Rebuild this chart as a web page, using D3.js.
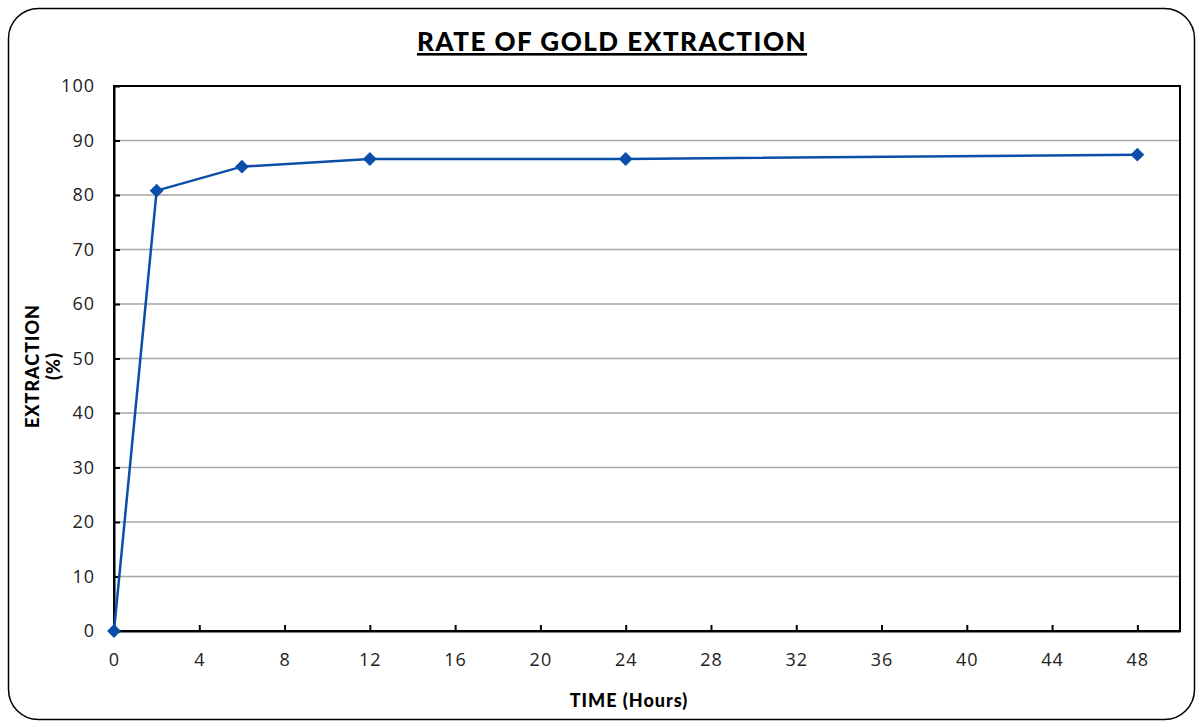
<!DOCTYPE html>
<head>
    <meta charset="utf-8">
    <title>Rate of gold extraction</title>
    <style>
        body { margin: 0; background: #fff; }
        text { font-family: Lato, "Open Sans", sans-serif; }
    </style>
</head>
<body>
    <script src="https://d3js.org/d3.v7.min.js"></script>
    <script>
        // data
        var hours = [0, 2, 6, 12, 24, 48];
        var extraction = [0, 80.8, 85.2, 86.6, 86.6, 87.4];
        var xTicks = [0, 4, 8, 12, 16, 20, 24, 28, 32, 36, 40, 44, 48];
        var yTicks = [0, 10, 20, 30, 40, 50, 60, 70, 80, 90, 100];

        var W = 1203, H = 727;
        var margin = { top: 86, right: 23, bottom: 96, left: 114 },
            width = W - margin.left - margin.right,
            height = H - margin.top - margin.bottom;

        var svg = d3.select('body').append('svg')
            .attr('width', W)
            .attr('height', H);

        // outer rounded frame
        svg.append('rect')
            .attr('x', 8.5).attr('y', 8.5)
            .attr('width', 1186).attr('height', 711)
            .attr('rx', 30).attr('ry', 30)
            .attr('fill', 'none')
            .attr('stroke', '#000')
            .attr('stroke-width', 1.5);

        var x = d3.scaleLinear().domain([0, 50]).range([0, width]);
        var y = d3.scaleLinear().domain([0, 100]).range([height, 0]);

        var g = svg.append('g')
            .attr('transform', 'translate(' + margin.left + ',' + margin.top + ')');

        // gridlines
        g.selectAll('.grid')
            .data(yTicks.slice(1, -1))
            .enter().append('line')
            .attr('class', 'grid')
            .attr('x1', 0).attr('x2', width)
            .attr('y1', function (d) { return y(d); })
            .attr('y2', function (d) { return y(d); })
            .attr('stroke', '#a6a6a6')
            .attr('stroke-width', 1.5);

        // plot frame
        g.append('rect')
            .attr('width', width).attr('height', height)
            .attr('fill', 'none')
            .attr('stroke', '#000')
            .attr('stroke-width', 2);

        var xAxis = d3.axisBottom(x)
            .tickValues(xTicks)
            .tickSizeInner(-6)
            .tickSizeOuter(0)
            .tickPadding(22);

        var yAxis = d3.axisLeft(y)
            .tickValues(yTicks)
            .tickSizeInner(-6)
            .tickSizeOuter(0)
            .tickPadding(19);

        var gx = g.append('g')
            .attr('transform', 'translate(0,' + height + ')')
            .call(xAxis);
        var gy = g.append('g').call(yAxis);

        [gx, gy].forEach(function (a) {
            a.select('.domain').attr('stroke', '#000').attr('stroke-width', 2);
            a.selectAll('.tick line').attr('stroke', '#000').attr('stroke-width', 2);
            a.selectAll('.tick text')
                .attr('fill', '#222')
                .style('font-size', '18px')
                .style('letter-spacing', '1px')
                .style('font-family', '"Open Sans", sans-serif');
        });

        // the series
        var pts = hours.map(function (h, i) { return [h, extraction[i]]; });

        var line = d3.line()
            .x(function (d) { return x(d[0]); })
            .y(function (d) { return y(d[1]); });

        g.append('path')
            .datum(pts)
            .attr('d', line)
            .attr('fill', 'none')
            .attr('stroke', '#0b4ea8')
            .attr('stroke-width', 2.5);

        g.selectAll('.pt')
            .data(pts)
            .enter().append('path')
            .attr('class', 'pt')
            .attr('d', d3.symbol().type(d3.symbolSquare).size(96))
            .attr('transform', function (d) {
                return 'translate(' + x(d[0]) + ',' + y(d[1]) + ') rotate(45)';
            })
            .attr('fill', '#0b4ea8');

        // titles
        svg.append('text')
            .attr('x', 612)
            .attr('y', 51)
            .attr('text-anchor', 'middle')
            .style('font-size', '26px')
            .style('font-weight', 900)
            .style('letter-spacing', '1.5px')
            .style('text-decoration', 'underline')
            .text('RATE OF GOLD EXTRACTION');

        svg.append('text')
            .attr('x', 629)
            .attr('y', 707)
            .attr('text-anchor', 'middle')
            .style('font-size', '18px')
            .style('font-weight', 900)
            .style('letter-spacing', '1px')
            .text('TIME (Hours)');

        var yl = svg.append('text')
            .attr('transform', 'translate(39,366) rotate(-90)')
            .attr('text-anchor', 'middle')
            .style('font-size', '18px')
            .style('font-weight', 900)
            .style('letter-spacing', '1px');
        yl.append('tspan').attr('x', 0).attr('dy', 0).text('EXTRACTION');
        yl.append('tspan').attr('x', 0).attr('dy', 21).text('(%)');
    </script>
</body>
